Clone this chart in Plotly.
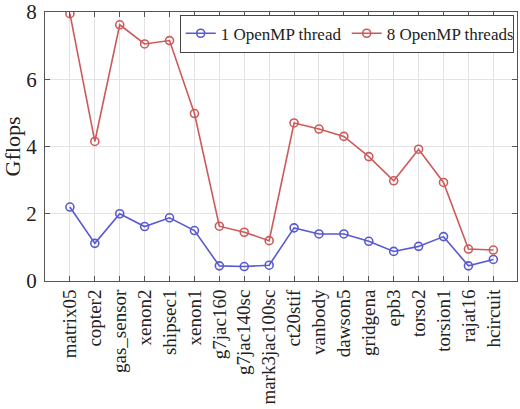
import plotly.graph_objects as go

categories = ["matrix05", "copter2", "gas_sensor", "xenon2", "shipsec1", "xenon1",
              "g7jac160", "g7jac140sc", "mark3jac100sc", "ct20stif", "vanbody",
              "dawson5", "gridgena", "epb3", "torso2", "torsion1", "rajat16", "hcircuit"]
one_thread = [2.2, 1.12, 2.0, 1.62, 1.88, 1.5, 0.45, 0.43, 0.47, 1.58, 1.4, 1.4,
              1.18, 0.88, 1.03, 1.32, 0.45, 0.64]
eight_threads = [7.95, 4.15, 7.62, 7.05, 7.15, 4.98, 1.63, 1.45, 1.2, 4.7, 4.52, 4.3,
                 3.7, 2.98, 3.92, 2.93, 0.95, 0.92]

blue = "#5a5ad0"
red = "#cc5a5a"
idx = list(range(len(categories)))

fig = go.Figure()
fig.add_trace(go.Scatter(x=idx, y=one_thread, mode="lines+markers", name="1 OpenMP thread",
                         line=dict(color=blue, width=1.6),
                         marker=dict(symbol="circle-open", size=8, color=blue, line=dict(width=1.6))))
fig.add_trace(go.Scatter(x=idx, y=eight_threads, mode="lines+markers", name="8 OpenMP threads",
                         line=dict(color=red, width=1.6),
                         marker=dict(symbol="circle-open", size=8, color=red, line=dict(width=1.6))))

font = "Liberation Serif"
fig.update_layout(
    width=520, height=409,
    margin=dict(l=45, r=3, t=12, b=128, autoexpand=False),
    paper_bgcolor="white", plot_bgcolor="white",
    font=dict(family=font, color="#222", size=16),
    showlegend=True,
    legend=dict(orientation="h", x=0.993, xanchor="right", y=0.99, yanchor="top",
                bordercolor="#444", borderwidth=1, bgcolor="white",
                font=dict(size=17, family=font), itemwidth=30,
                entrywidth=121, tracegroupgap=0),
    xaxis=dict(range=[-1, 17.95], tickmode="array", tickvals=idx, ticktext=categories,
               tickangle=-90, tickfont=dict(size=19, family=font), automargin=False,
               showgrid=True, gridcolor="#e3e3e3", gridwidth=1,
               showline=True, linecolor="#555", linewidth=1, mirror="ticks",
               ticks="inside", ticklen=5, tickcolor="#555", zeroline=False),
    yaxis=dict(range=[0, 8.0001], tickvals=[0, 2, 4, 6, 8], tickfont=dict(size=21, family=font),
               ticklabeloverflow="allow", ticklabelstandoff=3,
               title=dict(text="Gflops", font=dict(size=22, family=font), standoff=4),
               automargin=False,
               showgrid=True, gridcolor="#e3e3e3", gridwidth=1,
               showline=True, linecolor="#555", linewidth=1, mirror="ticks",
               ticks="inside", ticklen=5, tickcolor="#555", zeroline=False),
)

fig.write_html("out.html", config={"displayModeBar": False},
               post_script="document.body.style.margin='0';")
